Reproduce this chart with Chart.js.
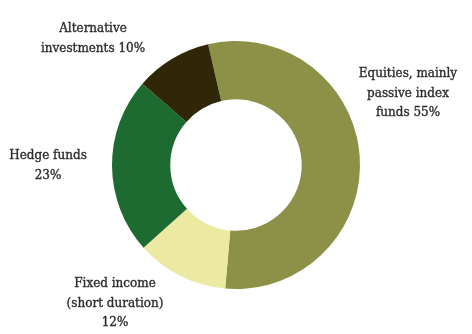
<!DOCTYPE html>
<html>
<head>
<meta charset="utf-8">
<script src="https://cdn.jsdelivr.net/npm/chart.js@4.4.1/dist/chart.umd.min.js"></script>
<style>
  html, body { margin: 0; padding: 0; background: #fff; }
  #wrap { width: 472px; height: 334px; position: relative; }
</style>
</head>
<body>
<div id="wrap"><canvas id="alloc"></canvas></div>
<script>
// Portfolio allocation, clockwise from the top
const categories = ['Equities, mainly passive index funds', 'Fixed income (short duration)', 'Hedge funds', 'Alternative investments'];
const shares = [55, 12, 23, 10];
const sliceColors = ['#8d9148', '#eceaa2', '#1e6b32', '#2f2708'];

// Label text, split into lines; the last word carries the percentage
const labelLines = [
    ['Equities, mainly', 'passive index', 'funds ' + shares[0] + '%'],
    ['Fixed income', '(short duration)', shares[1] + '%'],
    ['Hedge funds', shares[2] + '%'],
    ['Alternative', 'investments ' + shares[3] + '%']
];
// where each label block is centred (x, y of the first line)
const labelAnchors = [[408, 74], [115, 284], [48, 156], [93, 29]];

const outsideLabels = {
    id: 'outsideLabels',
    afterDraw(chart) {
        const ctx = chart.ctx;
        ctx.save();
        ctx.fillStyle = '#2b2b2b';
        ctx.font = '12px "DejaVu Serif", serif';
        ctx.textAlign = 'center';
        ctx.textBaseline = 'middle';
        labelLines.forEach((lines, i) => {
            const [x, y] = labelAnchors[i];
            lines.forEach((t, j) => {
                // stroke lightly to thicken the serif face a touch
                ctx.lineWidth = 0.35;
                ctx.strokeStyle = '#2b2b2b';
                ctx.strokeText(t, x, y + j * 19.5);
                ctx.fillText(t, x, y + j * 19.5);
            });
        });
        ctx.restore();
    }
};

new Chart(document.getElementById('alloc'), {
    type: 'doughnut',
    data: {
        labels: categories,
        datasets: [{
            data: shares,
            backgroundColor: sliceColors,
            borderWidth: 0
        }]
    },
    options: {
        responsive: true,
        maintainAspectRatio: false,
        animation: false,
        rotation: -13,
        cutout: '53%',
        layout: { padding: { top: 41, bottom: 45 } },
        plugins: { legend: { display: false }, tooltip: { enabled: false } }
    },
    plugins: [outsideLabels]
});
</script>
</body>
</html>
